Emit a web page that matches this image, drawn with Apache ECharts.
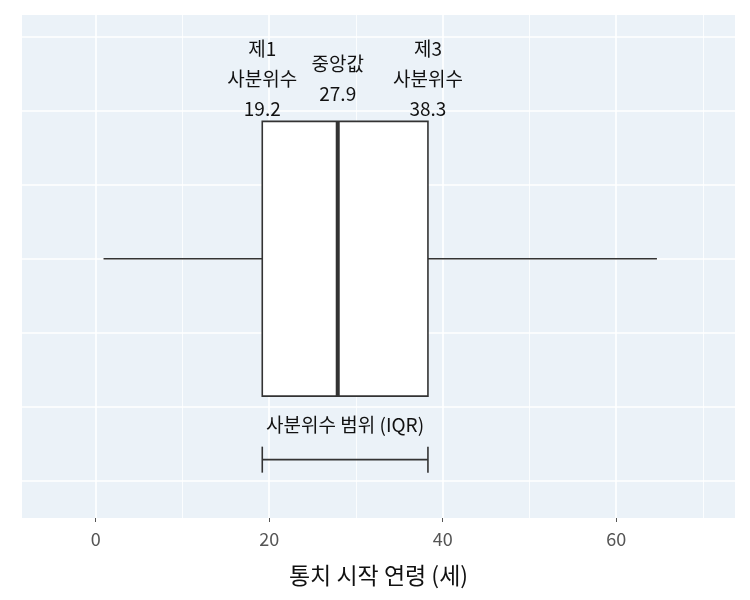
<!DOCTYPE html>
<html><head><meta charset="utf-8">
<script src="https://cdn.jsdelivr.net/npm/echarts@6/dist/echarts.min.js"></script>
<style>body{margin:0}#c{width:750px;height:600px}</style></head>
<body><div id="c"></div>
<script>
const stats = {min: 0.9, q1: 19.2, median: 27.9, q3: 38.3, max: 64.7};
const xTicks = [0, 20, 40, 60];
const xMinor = [10, 30, 50, 70];
const yGrid = [1, 2, 3, 4, 5, 6, 7];
const q1Label = ['제1', '사분위수', '19.2'];
const medLabel = ['중앙값', '27.9'];
const q3Label = ['제3', '사분위수', '38.3'];
const iqrLabel = '사분위수 범위 (IQR)';
const axisTitle = '통치 시작 연령 (세)';
const FONT = '"Noto Sans CJK KR", "Noto Sans", sans-serif';

const chart = echarts.init(document.getElementById('c'));
const lineStyleDark = {stroke: '#333', lineWidth: 1.6};
function renderItem(params, api) {
  const c = (x, y) => api.coord([x, y]);
  const yc = 4, h = 1.86;
  const [x1, yt] = c(stats.q1, yc + h);
  const [x3, yb] = c(stats.q3, yc - h);
  const [xm] = c(stats.median, yc);
  const [xmin, ymid] = c(stats.min, yc);
  const [xmax] = c(stats.max, yc);
  const [, yBr] = c(0, 1.28);
  const txt = (x, y, s) => ({type: 'text', style: {x, y, text: s, fill: '#111', font: '19px ' + FONT, align: 'center', verticalAlign: 'middle'}});
  const kids = [
    {type: 'line', shape: {x1: xmin, y1: ymid, x2: x1, y2: ymid}, style: lineStyleDark},
    {type: 'line', shape: {x1: x3, y1: ymid, x2: xmax, y2: ymid}, style: lineStyleDark},
    {type: 'rect', shape: {x: x1, y: yt, width: x3 - x1, height: yb - yt}, style: {fill: '#fff', stroke: '#333', lineWidth: 1.6}},
    {type: 'line', shape: {x1: xm, y1: yt, x2: xm, y2: yb}, style: {stroke: '#333', lineWidth: 4}},
    {type: 'line', shape: {x1: x1, y1: yBr, x2: x3, y2: yBr}, style: lineStyleDark},
    {type: 'line', shape: {x1: x1, y1: yBr - 13, x2: x1, y2: yBr + 13}, style: lineStyleDark},
    {type: 'line', shape: {x1: x3, y1: yBr - 13, x2: x3, y2: yBr + 13}, style: lineStyleDark},
    txt((x1 + x3) / 2, yBr - 35, iqrLabel)
  ];
  q1Label.forEach((s, i) => kids.push(txt(x1, yt - 73 + i * 30, s)));
  medLabel.forEach((s, i) => kids.push(txt(xm, yt - 58 + i * 30, s)));
  q3Label.forEach((s, i) => kids.push(txt(x3, yt - 73 + i * 30, s)));
  return {type: 'group', children: kids};
}
chart.setOption({
  animation: false,
  grid: {left: 22, right: 15, top: 15, bottom: 82, backgroundColor: '#EBF2F8', show: true, borderWidth: 0},
  xAxis: {type: 'value', min: -8.5, max: 73.7, splitLine: {show: false},
    axisLine: {show: false}, axisTick: {show: true, customValues: xTicks, length: 4, lineStyle: {color: '#555'}},
    axisLabel: {customValues: xTicks, color: '#555', fontSize: 18, fontFamily: FONT, margin: 12},
    name: axisTitle, nameLocation: 'middle', nameGap: 46, nameTextStyle: {fontSize: 23, color: '#111', fontFamily: FONT}},
  yAxis: {type: 'value', min: 0.49, max: 7.3, show: false, splitLine: {show: false}},
  series: [
    {type: 'line', data: [], markLine: {silent: true, symbol: 'none', label: {show: false},
      data: [
        ...xMinor.map(v => ({xAxis: v, lineStyle: {color: '#fff', width: 0.8, type: 'solid'}})),
        ...xTicks.map(v => ({xAxis: v, lineStyle: {color: '#fff', width: 1.6, type: 'solid'}})),
        ...yGrid.map(v => ({yAxis: v, lineStyle: {color: '#fff', width: 1.6, type: 'solid'}}))
      ]}},
    {type: 'custom', renderItem, data: [[stats.median, 4]], z: 5}
  ]
});
</script></body></html>
